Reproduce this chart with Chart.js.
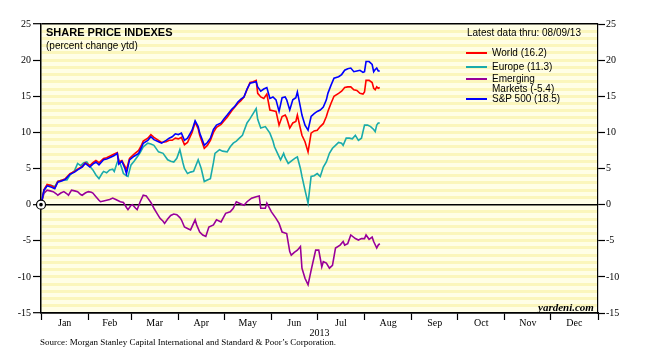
<!DOCTYPE html>
<html>
<head>
<meta charset="utf-8">
<title>Share price indexes</title>
<script src="https://cdn.jsdelivr.net/npm/chart.js@4.4.0/dist/chart.umd.min.js"></script>
<style>
  body { margin: 0; background: #fff; }
  #wrap { position: relative; width: 645px; height: 358px; }
  .t { position: absolute; white-space: nowrap; color: #000; line-height: 1; font-family: "Liberation Sans", Arial, sans-serif; }
  .serif { font-family: "Liberation Serif", "Times New Roman", serif; }
  .key { position: absolute; left: 466px; width: 21px; height: 2px; }
</style>
</head>
<body>
<div id="wrap">
  <canvas id="chart" width="645" height="358"></canvas>

  <div class="t" style="left:46px; top:27px; font-size:11px; font-weight:bold;">SHARE PRICE INDEXES</div>
  <div class="t" style="left:46px; top:41px; font-size:10px;">(percent change ytd)</div>

  <div class="t" style="left:467px; top:28px; font-size:10px;">Latest data thru: 08/09/13</div>
  <div class="key" style="top:52px; background:#ff0000;"></div>
  <div class="t" style="left:492px; top:48px; font-size:10px;">World (16.2)</div>
  <div class="key" style="top:66px; background:#1aabab;"></div>
  <div class="t" style="left:492px; top:62px; font-size:10px;">Europe (11.3)</div>
  <div class="key" style="top:78px; background:#990099;"></div>
  <div class="t" style="left:492px; top:74px; font-size:10px;">Emerging</div>
  <div class="t" style="left:492px; top:84px; font-size:10px;">Markets (-5.4)</div>
  <div class="key" style="top:98px; background:#0000ff;"></div>
  <div class="t" style="left:492px; top:94px; font-size:10px;">S&amp;P 500 (18.5)</div>

  <div class="t serif" style="left:538px; top:302px; font-size:11px; font-weight:bold; font-style:italic;">yardeni.com</div>
  <div class="t serif" style="left:40px; top:338px; font-size:9px;">Source: Morgan Stanley Capital International and Standard &amp; Poor’s Corporation.</div>
</div>

<script>
// months (day of year where each month starts) and their labels
const monthStarts = [0, 31, 59, 90, 120, 151, 181, 212, 243, 273, 304, 334, 365];
const monthLabels = ['Jan', 'Feb', 'Mar', 'Apr', 'May', 'Jun', 'Jul', 'Aug', 'Sep', 'Oct', 'Nov', 'Dec'];
const monthMids = monthLabels.map((m, i) => (monthStarts[i] + monthStarts[i + 1]) / 2);

// S&P 500
const spDays = [0,2,4,7,9,11,14,16,19,22, 24,27,29,32,34,36,38,41,43,46, 48,50,51,53,55,56,58,61,64,66,
  67,70,72,74,77,79,82,84,86,88, 90,92,94,96,99,101,103,104,106,107, 109,111,113,115,118,120,122,125,127,129,
  131,133,135,137,139,141,142,144,146,148, 150,152,154,156,158,160,161,163,165,167, 168,170,171,173,175,177,179,181,183,185,
  187,188,190,192,195,197,199,201,203,205, 207,209,211,212,213,215,217,218,219,220, 221,222];
const spValues = [0,2.0,2.6,2.4,2.2,3.1,3.3,3.5,4.2,4.5, 4.8,5.2,5.7,5.2,5.6,5.9,5.5,6.2,6.3,6.6, 6.8,7.1,5.6,6.0,5.0,4.3,6.2,6.7,7.1,8.0,
  8.5,8.9,9.4,9.0,8.7,8.5,8.9,9.2,9.4,9.8, 9.7,9.9,8.9,9.2,10.3,11.6,10.8,9.9,8.8,8.2, 8.6,9.2,10.4,11.0,11.3,11.9,12.4,13.2,13.6,14.2,
  14.6,14.9,16.0,16.8,16.9,17.0,16.3,15.7,16.0,16.2, 14.7,14.9,14.5,12.9,14.8,14.9,14.5,13.1,14.5,14.8, 15.6,13.5,12.4,11.0,10.3,12.2,12.6,12.9,13.1,13.5,
  14.5,15.4,16.5,17.5,17.7,18.0,18.6,18.8,18.9,18.4, 18.5,18.6,18.3,18.4,19.8,19.8,19.4,18.4,18.7,18.9, 18.5,18.5];

// MSCI World (same days as S&P)
const worldDays = spDays;
const worldValues = [0,2.1,2.8,2.6,2.3,3.2,3.4,3.6,4.3,4.6, 4.9,5.3,5.8,5.4,5.8,6.1,5.8,6.4,6.5,6.8, 7.0,7.2,5.9,6.1,5.3,4.8,6.4,7.0,7.5,8.3,
  8.8,9.2,9.7,9.3,8.9,8.6,8.7,8.9,8.9,9.2, 9.1,9.3,8.3,8.6,10.0,11.4,10.5,9.6,8.4,7.8, 8.2,8.9,10.0,10.7,11.1,11.6,12.1,13.0,13.5,14.0,
  14.4,14.9,15.9,16.9,17.0,17.2,15.4,14.9,14.7,15.3, 13.1,13.0,12.9,11.0,12.2,12.4,12.0,10.6,11.3,11.5, 12.4,10.5,9.6,8.7,7.3,9.9,10.2,10.3,10.8,11.2,
  12.2,12.9,14.0,15.0,15.4,15.7,16.2,16.3,16.3,15.9, 15.8,15.4,15.3,15.6,17.2,17.2,16.9,16.1,15.9,16.3, 16.1,16.2];

// MSCI Europe
const europeDays = [0,2,4,6,9,11,14,17,19,22, 24,26,28,30,32,34,36,38,40,41, 43,45,47,48,50,51,53,54,56,57,
  59,61,63,65,67,70,72,74,77,80, 83,85,87,89,91,93,94,96,98,100, 103,105,107,109,111,113,114,117,119,122,
  124,126,128,130,132,135,137,139,141,142, 144,147,150,152,153,155,157,159,160,162, 165,167,168,170,171,173,175,177,179,181,
  183,185,187,189,191,193,195,197,198,200, 202,204,206,208,210,212,214,216,218,219, 220,221,222];
const europeValues = [0,2.0,2.6,2.7,2.5,3.2,3.4,3.4,4.1,4.7, 5.7,5.4,5.8,5.9,5.3,4.8,4.1,3.6,4.3,4.6, 4.4,4.8,4.9,4.6,5.9,6.2,5.0,4.3,4.0,3.9,
  5.5,6.0,6.6,7.2,8.0,8.5,8.4,8.2,7.3,7.1, 6.2,6.0,5.9,6.4,7.6,5.8,5.0,4.3,4.5,4.6, 6.2,5.0,3.2,3.4,3.6,5.8,7.1,7.6,7.4,7.3,
  8.0,8.5,8.8,9.2,9.6,11.3,11.9,12.6,13.3,11.8, 10.6,10.8,9.9,8.8,8.0,7.1,6.2,7.1,6.5,5.7, 6.2,6.5,6.6,5.0,3.9,2.0,0.2,3.9,4.0,4.3,
  3.9,5.2,5.9,7.1,7.8,8.2,8.6,8.5,8.2,9.2, 9.2,9.1,9.6,8.9,9.2,11.0,11.0,10.8,10.4,10.1, 11.0,11.3,11.3];

// MSCI Emerging Markets
const emDays = [0,2,4,6,8,10,11,13,15,17, 18,20,22,24,26,27,29,31,33,34, 36,38,39,41,43,45,47,49,50,52,
  54,56,57,59,60,62,63,65,67,69, 70,72,74,76,78,80,81,83,85,87, 89,91,92,94,96,98,101,102,104,106,
  108,110,113,115,117,118,121,124,126,128, 130,133,135,138,141,143,144,147,148,151, 154,156,158,161,163,164,166,168,170,171,
  173,175,177,180,182,184,185,187,189,191, 193,196,198,199,201,203,206,208,210,212, 213,215,217,218,220,221,222];
const emValues = [0,1.6,2.0,1.9,1.8,1.5,1.3,1.6,1.8,1.5, 1.3,2.0,1.9,1.8,1.4,1.3,1.6,1.8,1.7,1.6, 1.1,0.6,0.4,0.5,0.6,0.7,0.9,0.7,0.6,0.4,
  0.3,-0.4,-0.7,-0.1,0.0,-0.5,-0.7,0.4,1.3,1.2, 0.9,0.3,-0.5,-1.2,-1.9,-2.3,-2.6,-2.0,-1.5,-1.3, -1.4,-1.8,-2.1,-3.1,-3.3,-3.5,-2.1,-2.8,-3.8,-4.2,
  -4.4,-3.1,-2.8,-2.1,-2.3,-2.4,-1.2,-1.0,-0.5,0.4, 0.2,-0.1,0.4,0.9,1.1,1.2,-0.5,-0.5,0.2,-1.0, -1.9,-2.6,-3.8,-4.0,-6.5,-7.0,-6.6,-6.3,-5.8,-8.8,
  -10.2,-11.1,-9.1,-6.3,-6.3,-8.6,-7.9,-8.1,-8.8,-8.4, -6.0,-5.6,-5.1,-5.6,-5.4,-4.2,-4.7,-4.9,-4.7,-4.7, -4.2,-4.8,-4.5,-5.1,-6.0,-5.6,-5.4];

function toPoints(days, values) {
    const n = Math.min(days.length, values.length);
    const pts = [];
    for (let i = 0; i < n; i++) pts.push({ x: days[i], y: values[i] });
    return pts;
}

const serif = { family: '"Liberation Serif", "Times New Roman", serif', size: 10 };

// pale yellow plot background
const plotBackground = {
    id: 'plotBackground',
    beforeDraw(chart) {
        const { ctx, chartArea: a } = chart;
        ctx.save();
        ctx.fillStyle = '#fffee6';
        ctx.fillRect(a.left, a.top, a.right - a.left, a.bottom - a.top);
        ctx.restore();
    }
};

const origin = [{ x: spDays[0], y: spValues[0] }];

new Chart(document.getElementById('chart'), {
    type: 'line',
    data: {
        datasets: [
            { data: origin, showLine: false, pointRadius: 1.8, pointBackgroundColor: '#000', pointBorderWidth: 0, clip: false },
            { data: origin, showLine: false, pointRadius: 4.5, pointBackgroundColor: '#fff', pointBorderColor: '#000', pointBorderWidth: 1.2, clip: false },
            { label: 'S&P 500', data: toPoints(spDays, spValues), borderColor: '#0000ff' },
            { label: 'World', data: toPoints(worldDays, worldValues), borderColor: '#ff0000' },
            { label: 'Europe', data: toPoints(europeDays, europeValues), borderColor: '#1aabab' },
            { label: 'Emerging Markets', data: toPoints(emDays, emValues), borderColor: '#990099' }
        ]
    },
    options: {
        responsive: false,
        animation: false,
        devicePixelRatio: 1,
        layout: { padding: { top: 24, left: 0, right: 0, bottom: 0 } },
        elements: {
            line: { borderWidth: 1.6, tension: 0 },
            point: { radius: 0, hoverRadius: 0 }
        },
        plugins: {
            legend: { display: false },
            tooltip: { enabled: false }
        },
        scales: {
            x: {
                type: 'linear',
                position: 'bottom',
                min: 0,
                max: 365,
                afterBuildTicks: (scale) => {
                    const t = [];
                    monthStarts.forEach((d, i) => {
                        t.push({ value: d });
                        if (i < monthMids.length) t.push({ value: monthMids[i] });
                    });
                    scale.ticks = t;
                },
                afterFit: (scale) => { scale.height = 45; },
                ticks: {
                    autoSkip: false,
                    maxRotation: 0,
                    padding: -3,
                    color: '#000',
                    font: serif,
                    callback: (value) => {
                        const i = monthMids.indexOf(value);
                        return i >= 0 ? monthLabels[i] : '';
                    }
                },
                grid: {
                    drawOnChartArea: false,
                    tickLength: 7,
                    tickWidth: 1.2,
                    tickColor: (ctx) => monthStarts.includes(ctx.tick && ctx.tick.value) ? '#000' : 'rgba(0,0,0,0)'
                },
                border: { color: '#000', width: 1.5 },
                title: { display: true, text: '2013', color: '#000', font: serif, padding: { top: 0, bottom: 19 } }
            },
            y: {
                position: 'left',
                min: -15,
                max: 25,
                afterFit: (scale) => { scale.width = 41; },
                ticks: {
                    stepSize: 1,
                    autoSkip: false,
                    padding: 2,
                    color: '#000',
                    font: serif,
                    callback: (v) => (v % 5 === 0 ? String(v) : '')
                },
                grid: {
                    color: (ctx) => ([0, 25, -15].includes(ctx.tick.value) ? '#000' : '#fbf6bc'),
                    lineWidth: (ctx) => ([0, 25, -15].includes(ctx.tick.value) ? 1.4 : 3),
                    tickLength: 8,
                    tickWidth: 1.2,
                    tickColor: (ctx) => (ctx.tick.value % 5 === 0 ? '#000' : 'rgba(0,0,0,0)')
                },
                border: { color: '#000', width: 1.5 }
            },
            y2: {
                position: 'right',
                min: -15,
                max: 25,
                afterFit: (scale) => { scale.width = 47; },
                ticks: { stepSize: 5, padding: 1, color: '#000', font: serif },
                grid: { drawOnChartArea: false, tickLength: 7, tickWidth: 1.2, tickColor: '#000' },
                border: { color: '#000', width: 1.2 }
            }
        }
    },
    plugins: [plotBackground]
});
</script>
</body>
</html>
